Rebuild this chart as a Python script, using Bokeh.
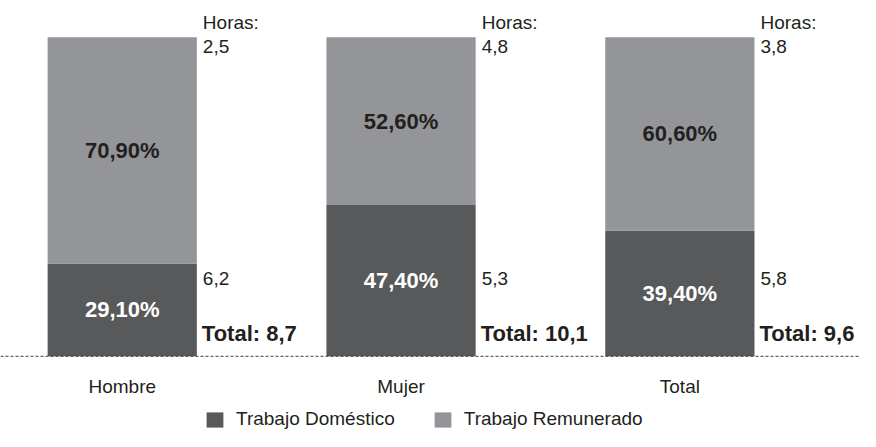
from bokeh.plotting import figure
from bokeh.models import ColumnDataSource, Span, Legend, LegendItem
from bokeh.core.properties import value
from bokeh.embed import file_html
from bokeh.resources import INLINE

categorias = ["Hombre", "Mujer", "Total"]
domestico_pct = [29.1, 47.4, 39.4]
remunerado_pct = [70.9, 52.6, 60.6]
horas_superior = [2.5, 4.8, 3.8]
horas_inferior = [6.2, 5.3, 5.8]
horas_total = [8.7, 10.1, 9.6]
series = ["Trabajo Doméstico", "Trabajo Remunerado"]

DARK = "#58595b"
LIGHT = "#939598"
TXT = "#231f20"
SANS = "Liberation Sans"

def coma(v, d=1):
    return f"{v:.{d}f}".replace(".", ",")

W, H = 860, 431
KX = W / 876
KY = H / 447
sx = 284.0 * KX
x_start = 1 - 408 * KX / sx
base_px = 369 * KY
top_px = 38 * KY
sy = (base_px - top_px) / 100.0
y_end = base_px / sy
y_start = -(H - base_px) / sy
BW = 152 / 284.0

xs = list(range(len(categorias)))
tope = [d + r for d, r in zip(domestico_pct, remunerado_pct)]
src = ColumnDataSource(dict(
    x=xs,
    cat=categorias,
    dom=domestico_pct,
    rem=remunerado_pct,
    tope=tope,
    mid_dom=[d / 2 for d in domestico_pct],
    mid_rem=[d + r / 2 for d, r in zip(domestico_pct, remunerado_pct)],
    lab_dom=[coma(v, 2) + "%" for v in domestico_pct],
    lab_rem=[coma(v, 2) + "%" for v in remunerado_pct],
    h_sup=[coma(v) for v in horas_superior],
    h_inf=[coma(v) for v in horas_inferior],
    h_tot=["Total: " + coma(v) for v in horas_total],
    xr=[x + BW / 2 for x in xs],
    zero=[0] * len(xs),
    horas=["Horas:"] * len(xs),
))

p = figure(width=W, height=H, output_backend="svg", toolbar_location=None,
           x_range=(x_start, x_start + W / sx), y_range=(y_start, y_end),
           min_border=0, outline_line_color=None)
p.xaxis.visible = False
p.yaxis.visible = False
p.xgrid.visible = False
p.ygrid.visible = False
p.background_fill_color = "white"
p.border_fill_color = "white"

r_dom = p.vbar(x="x", width=BW, bottom=0, top="dom", source=src,
               fill_color=DARK, line_color=None)
r_rem = p.vbar(x="x", width=BW, bottom="dom", top="tope", source=src,
               fill_color=LIGHT, line_color=None)

p.add_layout(Span(location=0, dimension="width", line_color="#3a3a3a",
                  line_width=1, line_dash="3 2"))

# percentages inside bars
p.text(x="x", y="mid_rem", text="lab_rem", source=src, text_align="center",
       text_baseline="middle", text_color=TXT, text_font=value(SANS),
       text_font_style="bold", text_font_size="22px")
p.text(x="x", y="mid_dom", text="lab_dom", source=src, text_align="center",
       text_baseline="middle", text_color="white", text_font=value(SANS),
       text_font_style="bold", text_font_size="22px")

# hours annotations
p.text(x="xr", y="tope", text="horas", source=src, x_offset=6, y_offset=-15,
       text_align="left", text_baseline="alphabetic", text_color=TXT,
       text_font=value(SANS), text_font_size="19px")
p.text(x="xr", y="tope", text="h_sup", source=src, x_offset=6, y_offset=9,
       text_align="left", text_baseline="alphabetic", text_color=TXT,
       text_font=value(SANS), text_font_size="19px")
p.text(x="xr", y="zero", text="h_inf", source=src, x_offset=6, y_offset=-78,
       text_align="left", text_baseline="alphabetic", text_color=TXT,
       text_font=value(SANS), text_font_size="19px")
p.text(x="xr", y="zero", text="h_tot", source=src, x_offset=5, y_offset=-23,
       text_align="left", text_baseline="alphabetic", text_color=TXT,
       text_font=value(SANS), text_font_style="bold", text_font_size="22px")

# category labels
p.text(x="x", y="zero", text="cat", source=src, y_offset=30,
       text_align="center", text_baseline="alphabetic", text_color=TXT,
       text_font=value(SANS), text_font_size="19px")

legend = Legend(items=[LegendItem(label=series[0], renderers=[r_dom]),
                       LegendItem(label=series[1], renderers=[r_rem])],
                orientation="horizontal", location=(204, 1),
                glyph_width=21, glyph_height=19, label_standoff=11,
                spacing=37, padding=0, margin=0, border_line_color=None,
                background_fill_alpha=0, label_text_font=SANS,
                label_text_font_size="19px", label_text_color=TXT,
                label_height=19)
p.add_layout(legend)

open("out.html", "w").write(file_html(p, INLINE))
